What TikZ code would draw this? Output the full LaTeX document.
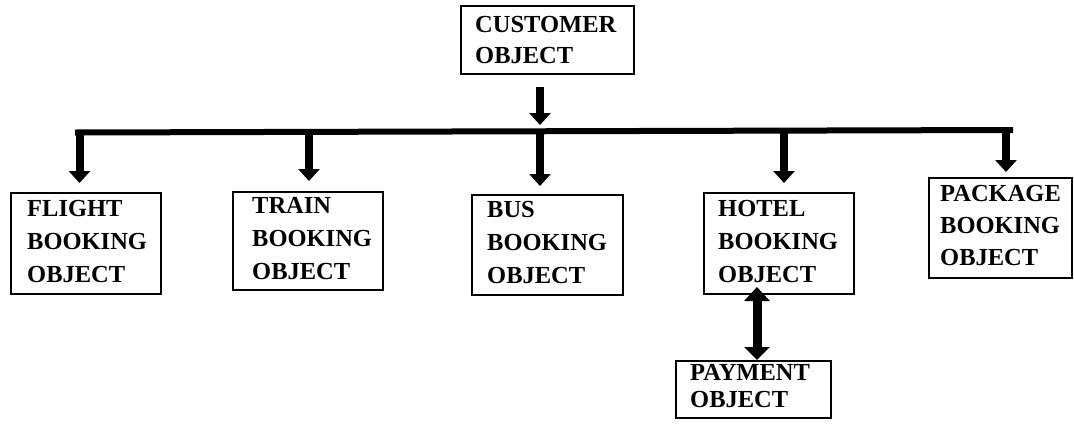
\documentclass[tikz,border=0pt]{standalone}
\usepackage{fontspec}
\setmainfont{Liberation Serif}
\usetikzlibrary{arrows.meta,calc}
\begin{document}
\begin{tikzpicture}[x=1pt,y=-1pt,
  box/.style={draw, line width=1.8pt, inner sep=0pt, anchor=north west},
  lbl/.style={anchor=north west, inner sep=0pt, align=left, font=\bfseries\fontsize{24.5}{33}\selectfont},
  arr/.style={line width=8pt, -{Triangle[width=21pt,length=12pt]}},
  dbl/.style={line width=9pt, {Triangle[width=25pt,length=14pt]}-{Triangle[width=25pt,length=13pt]}},
  barline/.style={line width=6pt}]
\useasboundingbox (0,0) rectangle (1074,429);
% boxes
\node[box, minimum width=173pt, minimum height=68pt] (cust) at (460,5) {};
\node[box, minimum width=150pt, minimum height=101pt] (flight) at (10,192) {};
\node[box, minimum width=150pt, minimum height=98pt] (train) at (232,191) {};
\node[box, minimum width=151pt, minimum height=100pt] (bus) at (471,194) {};
\node[box, minimum width=150pt, minimum height=101pt] (hotel) at (703,192) {};
\node[box, minimum width=143pt, minimum height=100pt] (package) at (928,177) {};
\node[box, minimum width=155pt, minimum height=57pt] (payment) at (675,360) {};
% labels
\node[lbl, font=\bfseries\fontsize{24.5}{31}\selectfont] (custT) at (475,16) {CUSTOMER\\OBJECT};
\node[lbl] (flightT) at (27,200.5) {FLIGHT\\BOOKING\\OBJECT};
\node[lbl] (trainT) at (252,197) {TRAIN\\BOOKING\\OBJECT};
\node[lbl] (busT) at (487,201.5) {BUS\\BOOKING\\OBJECT};
\node[lbl] (hotelT) at (718,200.5) {HOTEL\\BOOKING\\OBJECT};
\node[lbl, font=\bfseries\fontsize{24.5}{32}\selectfont] (packageT) at (940,185.5) {PACKAGE\\BOOKING\\OBJECT};
\node[lbl, font=\bfseries\fontsize{24.5}{27}\selectfont] (paymentT) at (690,364.5) {PAYMENT\\OBJECT};
% coordinates of connectors
\coordinate (cTop) at (540,87);
\coordinate (cTip) at (540,125);
\coordinate (bL) at (75,132.5);
\coordinate (bR) at (1013,130);
\coordinate (fTop) at (79.5,129.5);
\coordinate (fTip) at (79.5,183);
\coordinate (tTop) at (309,131.9);
\coordinate (tTip) at (309,181);
\coordinate (uTop) at (540,131.3);
\coordinate (uTip) at (540,186);
\coordinate (hTop) at (784,130.6);
\coordinate (hTip) at (784,183);
\coordinate (pTop) at (1006,130);
\coordinate (pTip) at (1006,172);
\coordinate (dTop) at (757,287);
\coordinate (dBot) at (757,360);
% connectors
\draw[arr] (cTop) -- (cTip);
\draw[barline] (bL) -- (bR);
\draw[arr] (fTop) -- (fTip);
\draw[arr] (tTop) -- (tTip);
\draw[arr] (uTop) -- (uTip);
\draw[arr] (hTop) -- (hTip);
\draw[arr] (pTop) -- (pTip);
\draw[dbl] (dTop) -- (dBot);
\end{tikzpicture}
\end{document}
